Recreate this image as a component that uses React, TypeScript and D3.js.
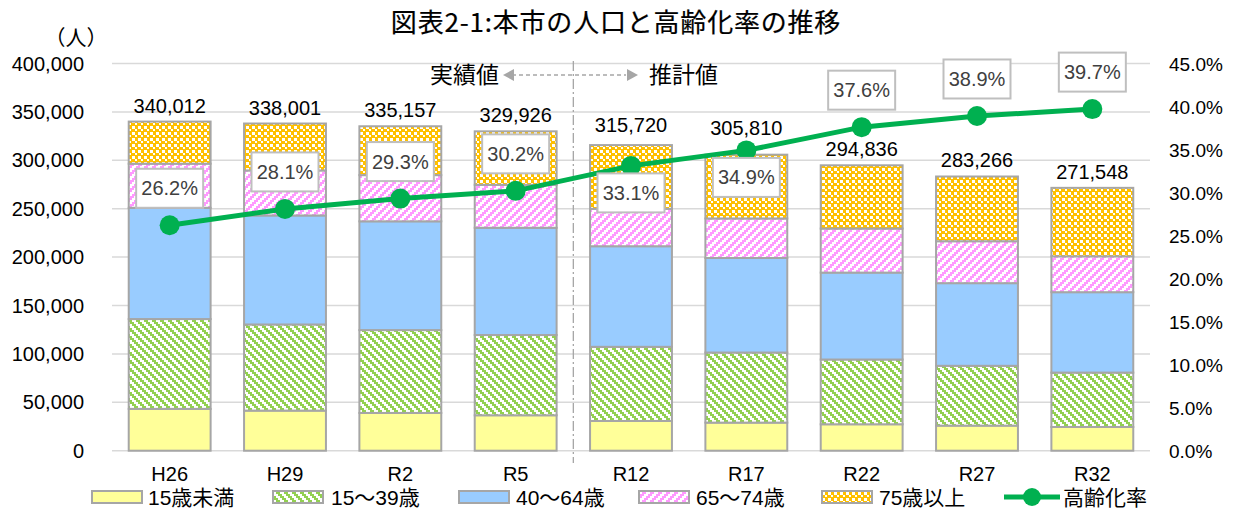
import React from 'react';
import * as d3 from 'd3';

const categories = ['H26', 'H29', 'R2', 'R5', 'R12', 'R17', 'R22', 'R27', 'R32'];
const under15 = [43200, 41400, 39000, 36600, 30700, 29000, 27300, 25900, 24500];
const age15to39 = [92800, 89000, 85600, 82900, 76600, 72400, 66900, 61800, 56200];
const age40to64 = [114929, 112623, 112356, 110788, 103917, 97682, 89778, 85376, 83043];
const age65to74 = [45571, 46477, 47744, 44412, 38683, 40818, 45522, 43324, 37057];
const age75plus = [43512, 48501, 50457, 55226, 65820, 65910, 65336, 66866, 70748];
const totals = [340012, 338001, 335157, 329926, 315720, 305810, 294836, 283266, 271548];
const agingRate = [26.2, 28.1, 29.3, 30.2, 33.1, 34.9, 37.6, 38.9, 39.7];
const leftTicks = [0, 50000, 100000, 150000, 200000, 250000, 300000, 350000, 400000];
const rightTicks = [0, 5, 10, 15, 20, 25, 30, 35, 40, 45];
const seriesKeys = ['u15', 'a15', 'a40', 'a65', 'a75'];
const seriesNames = ['15歳未満', '15～39歳', '40～64歳', '65～74歳', '75歳以上'];
const lineName = '高齢化率';
const title = '図表2-1:本市の人口と高齢化率の推移';
const yUnit = '（人）';
const actualLabel = '実績値';
const forecastLabel = '推計値';
const labelsBelow = ['R12', 'R17'];
const totalLabelLift: Record<string, number> = { R12: 13, R17: 20 };

const W = 1233;
const H = 511;
const FONT = '"Liberation Sans", Arial, "Noto Sans CJK JP", sans-serif';
const JFONT = '"Noto Sans CJK JP", sans-serif';
const GRID = '#D9D9D9';
const BORDER = '#A6A6A6';

const fills = ['#FFFF99', 'url(#pGreen)', '#99CCFF', 'url(#pPink)', 'url(#pOrange)'];

export default function App() {
  const rows = categories.map((c, i) => ({
    cat: c,
    u15: under15[i],
    a15: age15to39[i],
    a40: age40to64[i],
    a65: age65to74[i],
    a75: age75plus[i],
  }));
  const stacked = d3.stack<any>().keys(seriesKeys)(rows);

  const x = d3.scaleBand().domain(categories).range([112, 1150]).paddingInner(0.29).paddingOuter(0.145);
  const y = d3.scaleLinear().domain([0, 400000]).range([450.7, 63.5]);
  const y2 = d3.scaleLinear().domain([0, 45]).range([450.7, 63.5]);
  const cx = (c: string) => (x(c) as number) + x.bandwidth() / 2;

  const line = d3
    .line<number>()
    .x((_, i) => cx(categories[i]))
    .y((d) => y2(d));

  const fmt = d3.format(',');
  const divX = ((x('R5') as number) + x.bandwidth() + (x('R12') as number)) / 2;

  const greenRects: [number, number, number][] = [];
  const pinkRects: [number, number, number][] = [];
  for (let r = 0; r < 4; r++) {
    const gx = 2 * r;
    const px = (6 - 2 * r + 8) % 8;
    [gx, px].forEach((x0, k) => {
      const arr = k === 0 ? greenRects : pinkRects;
      if (x0 + 4 <= 8) arr.push([x0, 2 * r, 4]);
      else {
        arr.push([x0, 2 * r, 8 - x0]);
        arr.push([0, 2 * r, x0 + 4 - 8]);
      }
    });
  }

  const legendItems = [
    { sx: 92, tx: 148 },
    { sx: 273, tx: 331 },
    { sx: 459, tx: 516 },
    { sx: 639, tx: 696 },
    { sx: 822, tx: 879 },
  ];
  const legY = 497;

  return (
    <svg width={W} height={H} style={{ position: 'absolute', left: 0, top: 0, background: '#fff' }} fontFamily={FONT}>
      <defs>
        <pattern id="pGreen" width={8} height={8} patternUnits="userSpaceOnUse">
          <rect width={8} height={8} fill="#fff" />
          {greenRects.map((r, i) => (
            <rect key={i} x={r[0]} y={r[1]} width={r[2]} height={2} fill="#92D050" shapeRendering="crispEdges" />
          ))}
        </pattern>
        <pattern id="pPink" width={8} height={8} patternUnits="userSpaceOnUse">
          <rect width={8} height={8} fill="#fff" />
          {pinkRects.map((r, i) => (
            <rect key={i} x={r[0]} y={r[1]} width={r[2]} height={2} fill="#FF99FF" shapeRendering="crispEdges" />
          ))}
        </pattern>
        <pattern id="pOrange" width={6} height={6} patternUnits="userSpaceOnUse">
          <rect width={6} height={6} fill="#FFC000" />
          <rect x={0} y={0} width={3} height={3} fill="#fff" shapeRendering="crispEdges" />
          <rect x={3} y={3} width={2} height={2} fill="#fff" shapeRendering="crispEdges" />
        </pattern>
      </defs>

      <rect width={W} height={H} fill="#fff" />

      {/* title */}
      <text
        x={616}
        y={32}
        textAnchor="middle"
        fontSize={26}
        fill="#000"
        stroke="#000"
        strokeWidth={0.2}
        letterSpacing={0.8}
        fontFamily={JFONT}
      >
        {title}
      </text>

      {/* gridlines */}
      {leftTicks.map((t) => (
        <line key={t} x1={112} x2={1150} y1={y(t)} y2={y(t)} stroke={GRID} strokeWidth={1.5} />
      ))}

      {/* left axis labels */}
      {leftTicks.map((t) => (
        <text key={t} x={84} y={y(t) + 7} textAnchor="end" fontSize={20} fill="#000">
          {fmt(t)}
        </text>
      ))}
      <text x={76} y={45} textAnchor="middle" fontSize={21} fill="#000" fontFamily={JFONT}>
        {yUnit}
      </text>

      {/* right axis labels */}
      {rightTicks.map((t) => (
        <text key={t} x={1169} y={y2(t) + 7} textAnchor="start" fontSize={19} fill="#000">
          {t.toFixed(1) + '%'}
        </text>
      ))}

      {/* divider */}
      <line x1={divX} x2={divX} y1={61} y2={463} stroke={BORDER} strokeWidth={1.3} strokeDasharray="10,3,2,3" />

      {/* annotation arrows */}
      <text x={499} y={83} textAnchor="end" fontSize={23} fill="#000" fontFamily={JFONT}>
        {actualLabel}
      </text>
      <text x={649} y={83} textAnchor="start" fontSize={23} fill="#000" fontFamily={JFONT}>
        {forecastLabel}
      </text>
      <line x1={512} x2={626} y1={75} y2={75} stroke={BORDER} strokeWidth={1.5} strokeDasharray="4,3" />
      <path d="M503,75 L514,69 L514,81 Z" fill={BORDER} />
      <path d="M638,75 L627,69 L627,81 Z" fill={BORDER} />

      {/* bars */}
      {stacked.map((s, si) =>
        s.map((d, i) => (
          <rect
            key={si + '-' + i}
            x={x(categories[i])}
            y={y(d[1])}
            width={x.bandwidth()}
            height={y(d[0]) - y(d[1])}
            fill={fills[si]}
            stroke={BORDER}
            strokeWidth={2}
          />
        ))
      )}

      {/* total labels */}
      {totals.map((t, i) => (
        <text
          key={i}
          x={cx(categories[i])}
          y={y(t) - (totalLabelLift[categories[i]] ?? 9)}
          textAnchor="middle"
          fontSize={20}
          fill="#000"
        >
          {fmt(t)}
        </text>
      ))}

      {/* line */}
      <path d={line(agingRate) || ''} fill="none" stroke="#00B050" strokeWidth={5} />
      {agingRate.map((r, i) => (
        <circle key={i} cx={cx(categories[i])} cy={y2(r)} r={10} fill="#00B050" />
      ))}

      {/* rate labels */}
      {agingRate.map((r, i) => {
        const c = categories[i];
        const cy = y2(r) + (labelsBelow.includes(c) ? 27 : -37);
        const px = cx(c);
        return (
          <g key={i}>
            <rect x={px - 33.5} y={cy - 19.5} width={67} height={39} fill="#fff" stroke="#BFBFBF" strokeWidth={2} />
            <text x={px} y={cy + 7} textAnchor="middle" fontSize={20} fill="#404040">
              {r.toFixed(1) + '%'}
            </text>
          </g>
        );
      })}

      {/* x labels */}
      {categories.map((c) => (
        <text key={c} x={cx(c)} y={481} textAnchor="middle" fontSize={20} fill="#000">
          {c}
        </text>
      ))}

      {/* legend */}
      {legendItems.map((it, i) => (
        <g key={i}>
          <rect x={it.sx} y={legY - 6} width={50} height={12} fill={fills[i]} stroke={BORDER} strokeWidth={2} />
          <text x={it.tx} y={legY + 8} fontSize={21} fill="#000">
            {seriesNames[i]}
          </text>
        </g>
      ))}
      <line x1={1004} x2={1060} y1={legY} y2={legY} stroke="#00B050" strokeWidth={5} />
      <circle cx={1032} cy={legY} r={9} fill="#00B050" />
      <text x={1063} y={legY + 8} fontSize={21} fill="#000">
        {lineName}
      </text>
    </svg>
  );
}
